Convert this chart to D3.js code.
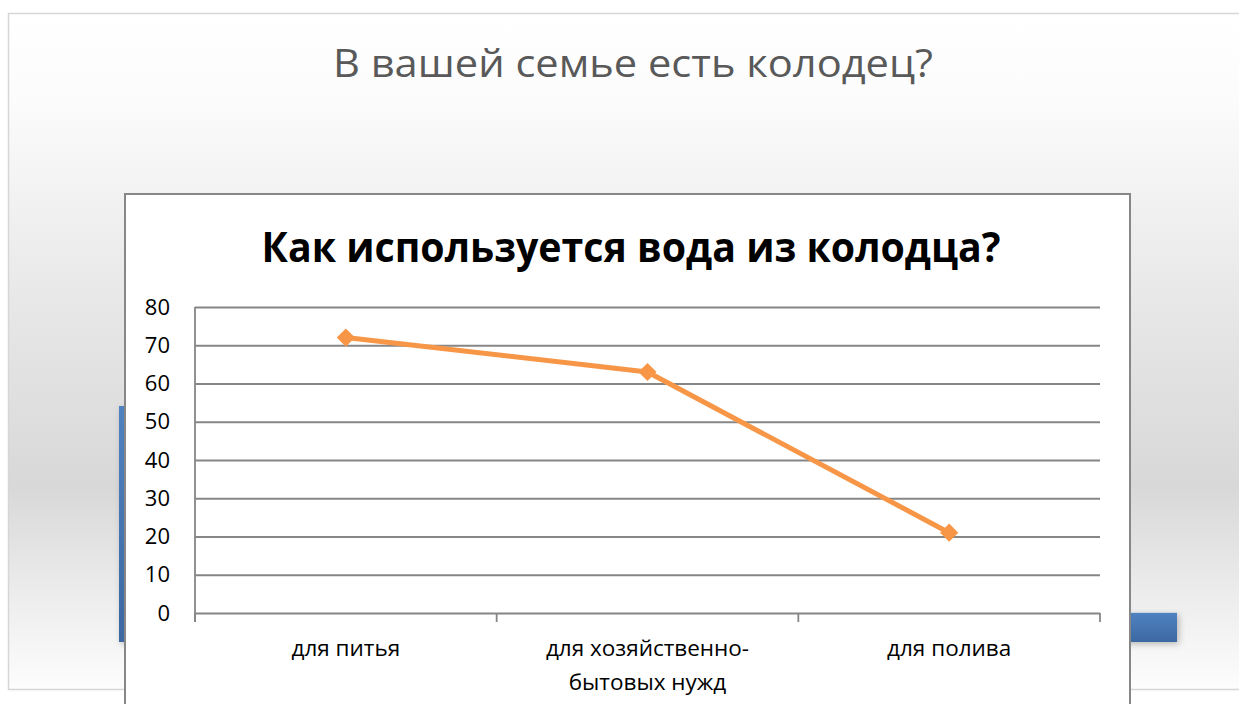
<!DOCTYPE html>
<html><head><meta charset="utf-8">
<script src="https://cdn.jsdelivr.net/npm/d3@7"></script>
<style>html,body{margin:0;padding:0;background:#fff;overflow:hidden}svg{display:block}</style>
</head><body>
<script>
// ---- data ----
const slideTitle = "В вашей семье есть колодец?";
const chartTitle = "Как используется вода из колодца?";
const categories = ["для питья", "для хозяйственно-|бытовых нужд", "для полива"];
const values = [72, 63, 21];
const yTicks = [0, 10, 20, 30, 40, 50, 60, 70, 80];
// partially hidden background chart (behind the line chart)
const bgCategories = ["да", "нет"];
const bgValues = [89, 11];

const W = 1239, H = 704;
const svg = d3.select("body").append("svg").attr("width", W).attr("height", H);
const defs = svg.append("defs");

const bgGrad = defs.append("linearGradient").attr("id","bg").attr("x1",0).attr("y1",0).attr("x2",0).attr("y2",1);
[[0,"#ffffff"],[0.12,"#fcfcfc"],[0.45,"#e6e6e6"],[0.70,"#d8d8d8"],[0.88,"#efefef"],[1,"#fdfdfd"]]
  .forEach(([o,c])=>bgGrad.append("stop").attr("offset",o).attr("stop-color",c));
const barGrad = defs.append("linearGradient").attr("id","bar").attr("x1",0).attr("y1",0).attr("x2",0).attr("y2",1);
[[0,"#5082c0"],[1,"#3c68a2"]].forEach(([o,c])=>barGrad.append("stop").attr("offset",o).attr("stop-color",c));
const sh = defs.append("filter").attr("id","sh").attr("x","-20%").attr("y","-20%").attr("width","160%").attr("height","160%");
sh.append("feDropShadow").attr("dx",2).attr("dy",2).attr("stdDeviation",3).attr("flood-color","#000").attr("flood-opacity",0.25);

// slide frame
svg.append("rect").attr("x",8.5).attr("y",13.5).attr("width",1250).attr("height",676)
  .attr("fill","url(#bg)").attr("stroke","#d6d6d6").attr("stroke-width",1.5);

svg.append("text").attr("x",633).attr("y",77).attr("text-anchor","middle")
  .attr("font-family","Open Sans, sans-serif").attr("font-size",39).attr("fill","#595959")
  .attr("textLength",600).attr("lengthAdjust","spacingAndGlyphs").text(slideTitle);

// background bar chart
const bx = d3.scaleBand().domain(bgCategories).range([119,1177]).paddingInner(0.5).paddingOuter(0);
const by = d3.scaleLinear().domain([0,89]).range([642,406]);
svg.append("g").selectAll("rect").data(bgValues).join("rect")
  .attr("x",(d,i)=>bx(bgCategories[i])).attr("width",bx.bandwidth())
  .attr("y",d=>by(d)).attr("height",d=>by(0)-by(d))
  .attr("fill","url(#bar)").attr("filter","url(#sh)");

// chart box
svg.append("rect").attr("x",125).attr("y",194).attr("width",1005).attr("height",560)
  .attr("fill","#fff").attr("stroke","#878787").attr("stroke-width",2);

svg.append("text").attr("x",631).attr("y",262).attr("text-anchor","middle")
  .attr("font-family","Open Sans, sans-serif").attr("font-weight","bold").attr("font-size",42).attr("fill","#000")
  .attr("textLength",739).attr("lengthAdjust","spacingAndGlyphs").text(chartTitle);

// scales
const x = d3.scaleBand().domain(categories).range([195,1100]);
const y = d3.scaleLinear().domain([0,80]).range([613,307]);

// y grid + ticks
const yAxis = svg.append("g").attr("transform","translate(195,0)")
  .call(d3.axisLeft(y).tickValues(yTicks).tickSize(9).tickSizeOuter(0).tickPadding(16));
yAxis.select(".domain").remove();
yAxis.selectAll(".tick line").attr("stroke","#868686").attr("stroke-width",1.8).attr("x2",1100-195);
yAxis.selectAll(".tick text").attr("font-family","Open Sans, sans-serif").attr("font-size",22).attr("fill","#000");

// vertical axis line
svg.append("line").attr("x1",195).attr("x2",195).attr("y1",307).attr("y2",622)
  .attr("stroke","#868686").attr("stroke-width",1.8);

// category axis ticks (band boundaries)
const bounds = categories.map(c=>x(c)).concat([x(categories[categories.length-1])+x.bandwidth()]);
svg.append("g").selectAll("line").data(bounds).join("line")
  .attr("x1",d=>d).attr("x2",d=>d).attr("y1",613).attr("y2",622)
  .attr("stroke","#868686").attr("stroke-width",1.8);

// category labels
const lab = svg.append("g").selectAll("text").data(categories).join("text")
  .attr("x",d=>x(d)+x.bandwidth()/2).attr("y",656).attr("text-anchor","middle")
  .attr("font-family","Open Sans, sans-serif").attr("font-size",22.5).attr("fill","#000");
lab.each(function(d){
  const parts = d.split("|");
  const t = d3.select(this);
  parts.forEach((p,i)=>t.append("tspan").attr("x",x(d)+x.bandwidth()/2).attr("dy",i?34:0).text(p));
});

// line
const cx = d=>x(d)+x.bandwidth()/2;
const line = d3.line().x((d,i)=>cx(categories[i])).y(d=>y(d));
svg.append("path").datum(values).attr("d",line).attr("fill","none")
  .attr("stroke","#f79646").attr("stroke-width",5).attr("stroke-linejoin","round").attr("stroke-linecap","round");
svg.append("g").selectAll("path").data(values).join("path")
  .attr("d",d3.symbol(d3.symbolSquare,165))
  .attr("transform",(d,i)=>`translate(${cx(categories[i])},${y(d)}) rotate(45)`)
  .attr("fill","#f79646");
</script>
</body></html>
